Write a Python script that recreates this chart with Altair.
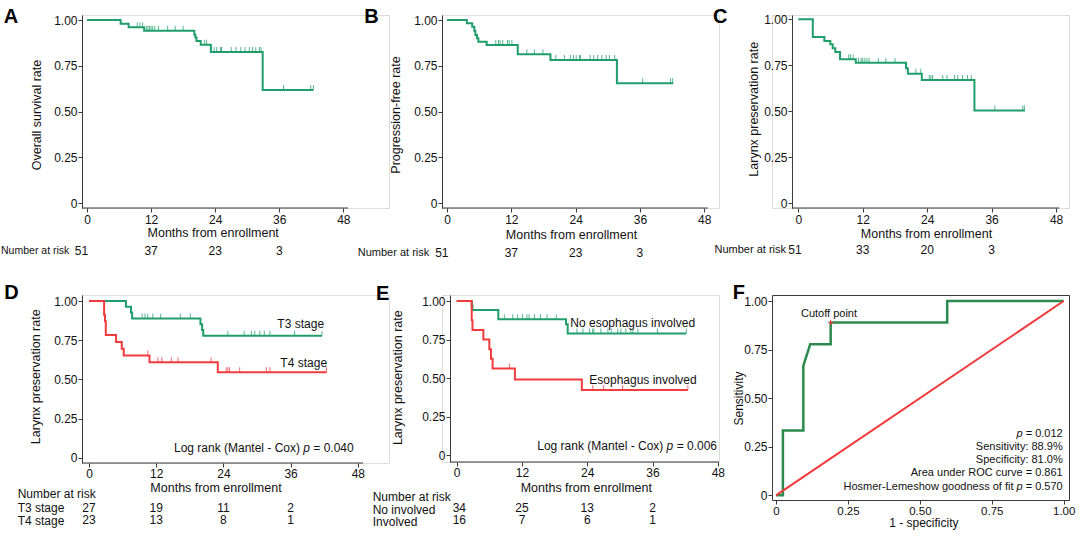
import altair as alt
import pandas as pd

FONT = "Liberation Sans"
TXT = "#111111"
AX = "#3a3a3a"
KM_GREEN = "#1f9e6c"
KM_RED = "#f23b3d"
ROC_GREEN = "#2b8a4d"
ROC_RED = "#f2383a"
TICK_FS = 12
TITLE_FS = 12.5

MONTH_TICKS = [0, 12, 24, 36, 48]
RATE_TICKS = [0, 0.25, 0.5, 0.75, 1.0]
RISK_MONTHS = [0, 12, 24, 36]

# ---------------- data ----------------
# A: overall survival
A_TIME = [0, 6.3, 7.8, 10.7, 20.1, 20.3, 20.5, 21.3, 23.2, 32.9, 42.4]
A_SURV = [1.0, 0.980, 0.961, 0.941, 0.920, 0.905, 0.885, 0.865, 0.825, 0.617, 0.617]
A_CENS = [9.4, 9.9, 10.4, 11.1, 11.4, 11.7, 12.0, 12.3, 12.7, 13.4, 15.1, 16.5, 18.0,
          22.0, 22.4, 23.8, 24.3, 25.0, 25.2, 27.0, 27.9, 28.8, 29.6, 30.4, 31.0,
          31.6, 32.3, 32.6, 36.8, 41.9, 42.4]
A_RISK = [51, 37, 23, 3]

# B: progression-free
B_TIME = [0, 3.7, 4.7, 5.1, 5.3, 5.6, 5.85, 7.4, 13.2, 19.3, 31.7, 42.2]
B_SURV = [1.0, 0.982, 0.963, 0.940, 0.918, 0.900, 0.882, 0.864, 0.813, 0.782, 0.655, 0.655]
B_CENS = [9.1, 9.6, 9.9, 10.4, 11.3, 11.6, 12.1, 14.9, 16.3, 17.9, 20.3, 21.9, 23.0,
          23.6, 24.1, 24.7, 24.9, 26.7, 27.4, 28.1, 28.9, 29.7, 30.3, 31.3, 36.5,
          41.7, 42.1]
B_RISK = [51, 37, 23, 3]

# C: larynx preservation
C_TIME = [0, 2.7, 4.85, 5.96, 6.4, 6.9, 7.77, 10.7, 20.05, 20.4, 23.0, 32.8, 42.2]
C_SURV = [1.0, 0.904, 0.882, 0.864, 0.842, 0.822, 0.783, 0.764, 0.734, 0.704, 0.670, 0.505, 0.505]
C_CENS = [9.4, 9.7, 10.2, 11.2, 11.7, 12.0, 12.4, 12.8, 13.2, 14.9, 16.3, 18.0, 21.9,
          22.8, 24.4, 24.7, 25.0, 26.9, 27.7, 29.1, 29.7, 30.6, 31.5, 32.2, 36.6,
          41.8, 42.1]
C_RISK = [51, 33, 20, 3]

# D: by T stage
D3_TIME = [0, 6.6, 7.5, 7.7, 19.9, 20.2, 20.4, 41.6]
D3_SURV = [1.0, 0.963, 0.926, 0.889, 0.852, 0.815, 0.778, 0.778]
D3_CENS = [9.5, 10.0, 10.5, 11.4, 12.8, 16.3, 18.1, 24.8, 27.7, 29.0, 29.6, 30.5,
           31.3, 32.3, 36.7, 41.6]
D4_TIME = [0, 2.7, 2.85, 3.0, 4.83, 5.85, 6.2, 10.8, 23.0, 42.4]
D4_SURV = [1.0, 0.913, 0.870, 0.783, 0.739, 0.696, 0.652, 0.609, 0.545, 0.545]
D4_CENS = [10.5, 12.3, 13.0, 14.7, 15.9, 21.8, 24.5, 24.8, 25.1, 26.9, 31.7, 32.3, 42.4]
D3_RISK = [27, 19, 11, 2]
D4_RISK = [23, 13, 8, 1]

# E: by esophagus involvement
E1_TIME = [0, 2.76, 2.9, 7.65, 20.1, 20.4, 42.2]
E1_SURV = [1.0, 0.971, 0.941, 0.882, 0.849, 0.790, 0.790]
E1_CENS = [8.75, 10.3, 11.2, 12.1, 12.9, 13.3, 14.3, 15.4, 16.6, 18.3, 22.1, 23.2,
           24.4, 25.0, 25.2, 26.5, 27.8, 28.4, 29.6, 30.2, 31.1, 32.0, 32.4, 33.3,
           36.9, 42.2]
E2_TIME = [0, 2.76, 2.9, 4.9, 6.0, 6.3, 6.6, 10.7, 23.0, 42.5]
E2_SURV = [1.0, 0.875, 0.8125, 0.75, 0.6875, 0.625, 0.5625, 0.492, 0.423, 0.423]
E2_CENS = [9.7, 25.0, 27.0, 30.5, 42.5]
E1_RISK = [34, 25, 13, 2]
E2_RISK = [16, 7, 6, 1]

# F: ROC
ROC_FPR = [0, 0.024, 0.024, 0.095, 0.095, 0.119, 0.190, 0.190, 0.595, 0.595, 1.0]
ROC_TPR = [0, 0, 0.333, 0.333, 0.667, 0.778, 0.778, 0.889, 0.889, 1.0, 1.0]
DIAG = [0, 1]
CUTOFF = (0.190, 0.889)

# ---------------- helpers ----------------
EM = {" ": 278, "(": 333, ")": 333, "-": 333, "=": 584, ".": 278, "%": 889, ":": 278,
      "A": 667, "C": 722, "H": 722, "L": 556, "M": 833, "N": 722, "R": 722, "O": 778,
      "S": 667, "T": 611, "a": 556, "b": 556, "c": 500, "d": 556, "e": 556, "f": 278,
      "g": 556, "h": 556, "i": 222, "k": 500, "l": 222, "m": 833, "n": 556, "o": 556,
      "p": 556, "r": 333, "s": 500, "t": 278, "u": 556, "v": 500, "w": 722, "x": 500,
      "y": 500}


def text_w(s, size):
    return sum(EM.get(c, 556) for c in s) * size / 1000.0


def level_at(times, surv, t):
    v = surv[0]
    for ti, si in zip(times, surv):
        if ti <= t:
            v = si
    return v


def txt(s, x, y, size=12, align="left", baseline="middle", bold=False,
        italic=False, angle=None, color=TXT):
    kw = dict(align=align, baseline=baseline, fontSize=size, font=FONT, color=color)
    if bold:
        kw["fontWeight"] = "bold"
    if italic:
        kw["fontStyle"] = "italic"
    if angle is not None:
        kw["angle"] = angle
    return alt.Chart(pd.DataFrame({"v": [s]})).mark_text(**kw).encode(
        x=alt.value(x), y=alt.value(y), text="v:N")


def rich(segments, x_right, y, size):
    gap = 278 * size / 1000.0
    total = sum(text_w(s, size) for s, _ in segments) + gap * (len(segments) - 1)
    x = x_right - total
    out = []
    for s, it in segments:
        out.append(txt(s, x, y, size=size, italic=it))
        x += text_w(s, size) + gap
    return out


LABEL_EXPR = "datum.value == 0 ? '0' : format(datum.value, '.2f')"


def make_axes(values_x, lab_pad_x, x_size=TICK_FS, x_expr=None, y_domain=True, y_off=0):
    xkw = dict(values=values_x, domain=False, tickSize=4, tickColor=AX, tickWidth=1,
               labelFont=FONT, labelFontSize=x_size, labelColor=TXT,
               labelPadding=lab_pad_x, labelFlush=False, labelOverlap=False,
               grid=False, title=None)
    if x_expr:
        xkw["labelExpr"] = x_expr
    xa = alt.Axis(**xkw)
    ykw = dict(values=RATE_TICKS, domain=y_domain, domainColor=AX, domainWidth=1,
               tickSize=4, tickColor=AX, tickWidth=1, labelFont=FONT,
               labelFontSize=TICK_FS, labelColor=TXT, labelPadding=1,
               labelFlush=False, labelOverlap=False, grid=False, title=None,
               labelExpr=LABEL_EXPR)
    if y_off:
        ykw["offset"] = y_off
    ya = alt.Axis(**ykw)
    return xa, ya


def km_frame(W, H, px0, ppm, py1, py0, start_px, axis_end, lab_pad, y_off=0):
    xs = alt.Scale(domain=[-px0 / ppm, (W - px0) / ppm], nice=False, zero=False)
    r = py0 - py1
    ys = alt.Scale(domain=[(py0 - H) / r, py0 / r], nice=False, zero=False)
    xa, ya = make_axes(MONTH_TICKS, lab_pad, y_off=y_off)

    def X(f):
        return alt.X(f"{f}:Q", scale=xs, axis=xa)

    def Y(f):
        return alt.Y(f"{f}:Q", scale=ys, axis=ya)

    axis_line = alt.Chart(pd.DataFrame({"a": [(start_px - px0) / ppm], "b": [axis_end]})).mark_rule(
        color=AX, strokeWidth=1).encode(x=X("a"), x2="b:Q", y=alt.value(H))
    return X, Y, [axis_line]


def km_layers(times, surv, cens, color, X, Y):
    line = alt.Chart(pd.DataFrame({"t": times, "s": surv})).mark_line(
        interpolate="step-after", color=color, strokeWidth=2).encode(x=X("t"), y=Y("s"))
    cdf = pd.DataFrame({"t": cens, "s": [level_at(times, surv, c) for c in cens]})
    marks = alt.Chart(cdf).mark_tick(orient="vertical", color=color, thickness=1,
                                     size=5, yOffset=-2.5, opacity=0.75).encode(
        x=X("t"), y=Y("s"))
    return [line, marks]


def risk_row(counts, y, X, first_dx=0.0, size=12):
    df = pd.DataFrame({"t": RISK_MONTHS, "n": [str(c) for c in counts]})
    first = alt.Chart(df.iloc[:1]).mark_text(
        fontSize=size, font=FONT, color=TXT, baseline="middle", dx=first_dx).encode(
        x=X("t"), y=alt.value(y), text="n:N")
    rest = alt.Chart(df.iloc[1:]).mark_text(
        fontSize=size, font=FONT, color=TXT, baseline="middle").encode(
        x=X("t"), y=alt.value(y), text="n:N")
    return [first, rest]


def letter(ch, x, y):
    return txt(ch, x, y, size=20, bold=True, baseline="alphabetic", color="#000")


# Column layout: col1 at x=81 (width 307), col2 at 441 (width 277), col3 at 771 (width 297)
# ---------------- panel A ----------------
W, H = 307, 193
X, Y, L = km_frame(W, H, 5, 5.34, 5, 188, 0, 48.88, 2)
L += km_layers(A_TIME, A_SURV, A_CENS, KM_GREEN, X, Y)
L += risk_row(A_RISK, 236, X, first_dx=-5.5)
L += [
    alt.Chart(pd.DataFrame({"a": [0]})).mark_rect(color="white").encode(
        x=alt.value(-81), x2=alt.value(-80), y=alt.value(-14), y2=alt.value(-13)),
    letter("A", -78.3, 7.7),
    txt("Overall survival rate", -45, 100, size=TITLE_FS, angle=270, align="center"),
    txt("Months from enrollment", 131.2, 217.5, size=TITLE_FS, align="center"),
    txt("Number at risk", -12.7, 236, size=10.5, align="right"),
]
pA = alt.layer(*L).properties(width=W, height=H)

# ---------------- panel B ----------------
W, H = 277, 193
X, Y, L = km_frame(W, H, 5, 5.36, 5, 188.3, 0, 48.64, 2)
L += km_layers(B_TIME, B_SURV, B_CENS, KM_GREEN, X, Y)
L += risk_row(B_RISK, 237.5, X, first_dx=-5.2)
L += [
    letter("B", -77.7, 7.7),
    txt("Progression-free rate", -46, 100, size=TITLE_FS, angle=270, align="center"),
    txt("Months from enrollment", 129.5, 220, size=TITLE_FS, align="center"),
    txt("Number at risk", -12.7, 237.5, size=11, align="right"),
]
pB = alt.layer(*L).properties(width=W, height=H)

# ---------------- panel C (plot origin 771, y axis shifted to 791) ----------------
W, H = 297, 193
X, Y, L = km_frame(W, H, 26.3, 5.37, 4.3, 188.3, 20, 48.6, 2, y_off=-20)
L += km_layers(C_TIME, C_SURV, C_CENS, KM_GREEN, X, Y)
L += risk_row(C_RISK, 234.5, X, first_dx=-3.3)
L += [
    letter("C", -59, 7.7),
    txt("Larynx preservation rate", -18, 94.3, size=TITLE_FS, angle=270, align="center"),
    txt("Months from enrollment", 154.5, 218.5, size=TITLE_FS, align="center"),
    txt("Number at risk", 14, 234.5, size=11, align="right"),
]
pC = alt.layer(*L).properties(width=W, height=H)

# ---------------- panel D ----------------
W, H = 307, 168
X, Y, L = km_frame(W, H, 7, 5.6, 6, 162.7, 0, 48.93, 1.5)
L += km_layers(D3_TIME, D3_SURV, D3_CENS, KM_GREEN, X, Y)
L += km_layers(D4_TIME, D4_SURV, D4_CENS, KM_RED, X, Y)
L += risk_row(D3_RISK, 213, X)
L += risk_row(D4_RISK, 225, X)
L += [
    letter("D", -77.7, 4.3),
    txt("Larynx preservation rate", -46, 81.8, size=TITLE_FS, angle=270, align="center"),
    txt("Months from enrollment", 134, 192.5, size=TITLE_FS, align="center"),
    txt("T3 stage", 218.7, 29.3, align="center"),
    txt("T4 stage", 221.7, 67.7, align="center"),
    txt("Number at risk", -64.3, 199.3),
    txt("T3 stage", -64.3, 213),
    txt("T4 stage", -64.3, 226),
]
L += rich([("Log rank (Mantel - Cox)", False), ("p", True), ("= 0.040", False)],
          271.7, 152.7, 12)
pD = alt.layer(*L).properties(width=W, height=H)

# ---------------- panel E (plot origin 441, y axis shifted to 449) ----------------
W, H = 277, 167
X, Y, L = km_frame(W, H, 14.7, 5.44, 6, 160.3, 8, (277 - 14.7) / 5.44, 1.5, y_off=-8)
L += km_layers(E1_TIME, E1_SURV, E1_CENS, KM_GREEN, X, Y)
L += km_layers(E2_TIME, E2_SURV, E2_CENS, KM_RED, X, Y)
L += risk_row(E1_RISK, 212.5, X, first_dx=2.6)
L += risk_row(E2_RISK, 225, X, first_dx=2.6)
L += [
    letter("E", -66, 5.3),
    txt("Larynx preservation rate", -44.3, 82.7, size=TITLE_FS, angle=270, align="center"),
    txt("Months from enrollment", 144.3, 193, size=TITLE_FS, align="center"),
    txt("No esophagus involved", 128.3, 28.3),
    txt("Esophagus involved", 147.3, 85),
    txt("Number at risk", -69.3, 202.3),
    txt("No involved", -69.3, 214.5),
    txt("Involved", -69.3, 226.5),
]
L += rich([("Log rank (Mantel - Cox)", False), ("p", True), ("= 0.006", False)],
          275, 151, 12)
pE = alt.layer(*L).properties(width=W, height=H)

# ---------------- panel F ----------------
W, H = 297, 205
px0, ppu = 4, 287.7
py1, py0 = 6, 200.3
fxs = alt.Scale(domain=[-px0 / ppu, (W - px0) / ppu], nice=False, zero=False)
fys = alt.Scale(domain=[(py0 - H) / (py0 - py1), py0 / (py0 - py1)], nice=False, zero=False)
fxa, fya = make_axes(RATE_TICKS, 1.5, x_size=11.5, x_expr=LABEL_EXPR, y_domain=False)


def FX(f):
    return alt.X(f"{f}:Q", scale=fxs, axis=fxa)


def FY(f):
    return alt.Y(f"{f}:Q", scale=fys, axis=fya)


roc_df = pd.DataFrame({"fpr": ROC_FPR, "tpr": ROC_TPR, "i": list(range(len(ROC_FPR)))})
L = [
    alt.Chart(roc_df).mark_line(color=ROC_GREEN, strokeWidth=2.5).encode(
        x=FX("fpr"), y=FY("tpr"), order="i:Q"),
    alt.Chart(pd.DataFrame({"fpr": DIAG, "tpr": DIAG})).mark_line(
        color=ROC_RED, strokeWidth=2).encode(x=FX("fpr"), y=FY("tpr")),
    alt.Chart(pd.DataFrame({"fpr": [CUTOFF[0]], "tpr": [CUTOFF[1]]})).mark_point(
        shape="M-1,0L1,0M0,-1L0,1", size=30, filled=False, strokeWidth=1,
        color=ROC_RED, opacity=1).encode(x=FX("fpr"), y=FY("tpr")),
    letter("F", -39.3, 4.3),
    txt("Sensitivity", -33.5, 103.5, size=12, angle=270, align="center"),
    txt("1 - specificity", 151.8, 228, size=12, align="center"),
    txt("Cutoff point", 57, 18.7, size=11, align="center"),
]
L += rich([("p", True), ("= 0.012", False)], 290.7, 138.7, 11)
L += [
    txt("Sensitivity: 88.9%", 290.7, 151.7, size=11, align="right"),
    txt("Specificity: 81.0%", 290.7, 165, size=11, align="right"),
    txt("Area under ROC curve = 0.861", 290.7, 178.3, size=11, align="right"),
]
L += rich([("Hosmer-Lemeshow goodness of fit", False), ("p", True), ("= 0.570", False)],
          290.7, 192, 11)
pF = alt.layer(*L).properties(width=W, height=H,
                              view=alt.ViewBackground(stroke=AX, strokeWidth=1))

chart = alt.concat(
    pA, pB, pC, pD, pE, pF,
    columns=3, spacing={"row": 87, "column": 53}, align="each", bounds="flush",
    padding=0,
).configure_view(stroke=None).configure(font=FONT, background="white")

chart.save("out.html", embed_options={"renderer": "svg", "actions": False})
